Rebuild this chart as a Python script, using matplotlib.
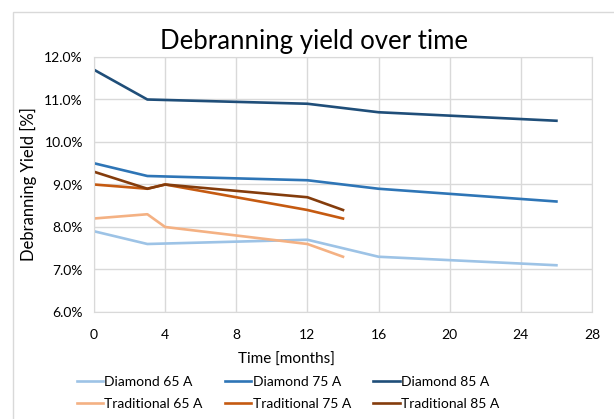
import matplotlib.pyplot as plt
from matplotlib.patches import Rectangle
from matplotlib.ticker import FuncFormatter

plt.rcParams['font.family'] = ['Lato', 'DejaVu Sans']

# months at which yield was measured
t_diamond = [0, 3, 12, 16, 26]
t_trad = [0, 3, 4, 12, 14]

diamond_65 = [7.9, 7.6, 7.7, 7.3, 7.1]
diamond_75 = [9.5, 9.2, 9.1, 8.9, 8.6]
diamond_85 = [11.7, 11.0, 10.9, 10.7, 10.5]
trad_65 = [8.2, 8.3, 8.0, 7.6, 7.3]
trad_75 = [9.0, 8.9, 9.0, 8.4, 8.2]
trad_85 = [9.3, 8.9, 9.0, 8.7, 8.4]

W, H = 614, 419
fig = plt.figure(figsize=(W / 100, H / 100), dpi=100)
ax = fig.add_axes([94 / W, 1 - 312 / H, (592 - 94) / W, (312 - 57) / H])

# outer chart border
fig.patches.append(Rectangle((13 / W, -0.05), 1.0, 1 - 12 / H + 0.05,
                             transform=fig.transFigure, fill=False,
                             edgecolor='#D9D9D9', linewidth=1))

# legend order is by column (ncol=3), so interleave
series = [
    ('Diamond 65 A', t_diamond, diamond_65, '#9DC3E6'),
    ('Traditional 65 A', t_trad, trad_65, '#F4B183'),
    ('Diamond 75 A', t_diamond, diamond_75, '#2E75B6'),
    ('Traditional 75 A', t_trad, trad_75, '#C55A11'),
    ('Diamond 85 A', t_diamond, diamond_85, '#1F4E79'),
    ('Traditional 85 A', t_trad, trad_85, '#843C0C'),
]
for name, x, y, c in series:
    ax.plot(x, y, color=c, linewidth=1.9, label=name)

ax.set_xlim(0, 28)
ax.set_ylim(6, 12)
ax.set_xticks(range(0, 29, 4))
ax.set_yticks(range(6, 13))
ax.yaxis.set_major_formatter(FuncFormatter(lambda v, p: f'{v:.1f}%'))
ax.grid(True, color='#D9D9D9', linewidth=1)
ax.set_axisbelow(True)
for s in ax.spines.values():
    s.set_color('#D9D9D9')
ax.tick_params(length=0, labelsize=10, pad=8)
ax.tick_params(axis='x', pad=12)

fig.text(314 / W, 1 - 42 / H, 'Debranning yield over time', fontsize=18.5,
         ha='center', va='center')
ax.set_xlabel('Time [months]', fontsize=11)
ax.xaxis.set_label_coords((286 - 94) / (592 - 94), -(353 - 312) / (312 - 57))
ax.set_ylabel('Debranning Yield [%]', fontsize=12)
ax.yaxis.set_label_coords(-(94 - 37) / (592 - 94), (312 - 184) / (312 - 57))

fig.legend(loc='center left', bbox_to_anchor=(64 / W, 1 - 393 / H), ncol=3,
           frameon=False, fontsize=10, handlelength=1.9, handletextpad=0.1,
           columnspacing=1.6, labelspacing=0.75)

fig.savefig('out.png', dpi=100)
